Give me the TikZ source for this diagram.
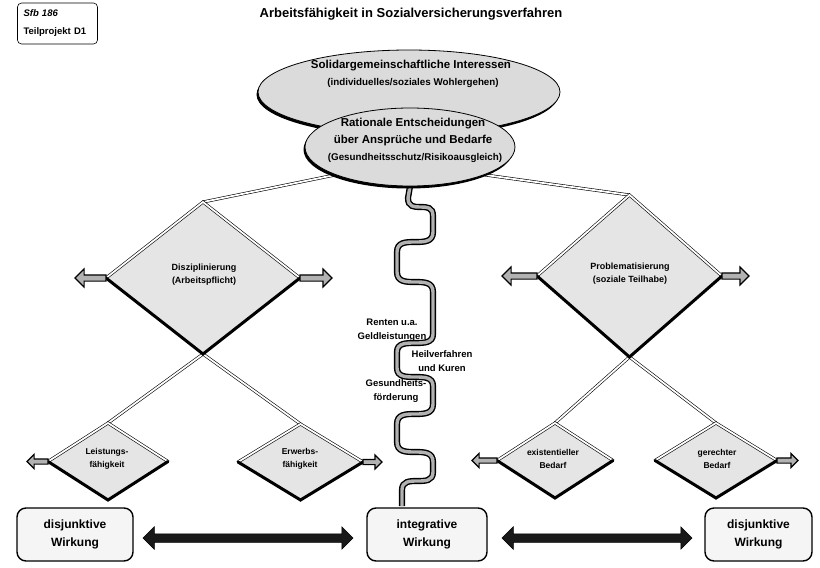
\documentclass[tikz,border=0pt]{standalone}
\usepackage{fontspec}
\setmainfont{Liberation Sans}
\usetikzlibrary{shapes.geometric,shapes.arrows,calc}
\pgfdeclarelayer{bg}
\pgfsetlayers{bg,main}
\begin{document}
\begin{tikzpicture}[x=1pt,y=-1pt,
  dfill/.style={diamond, draw=none, fill=gray!20, inner sep=0pt, outer sep=0pt},
  dbl/.style={draw=black, line width=0.6pt, double=white, double distance=1.8pt},
  thk/.style={draw=black, line width=3pt, line cap=round},
  fatarr/.style={single arrow, draw=black, line width=1.1pt, fill=gray!60, inner sep=2.5pt,
     single arrow head extend=6pt, anchor=tail, outer sep=0pt},
  smarr/.style={fatarr, inner sep=2pt, single arrow head extend=4.5pt},
  dtext/.style={align=center, font=\fontsize{9}{13}\selectfont\bfseries},
  stext/.style={align=center, font=\fontsize{8.5}{12.5}\selectfont\bfseries},
  wtext/.style={align=center, font=\fontsize{9.5}{14.5}\selectfont\bfseries},
  wave/.style={line width=1.4pt, double=gray!60, double distance=3.4pt},
  wbox/.style={draw=black, line width=1.4pt, rounded corners=9pt, fill=gray!8,
     minimum height=53pt, align=center, font=\fontsize{12}{18}\selectfont\bfseries},
  barr/.style={double arrow, fill=black!90, draw=black, line width=0.5pt, inner sep=4pt,
     double arrow head extend=7pt, outer sep=0pt}
]
\useasboundingbox (0,0) rectangle (820,568);

% header
\node[draw=black, line width=0.6pt, rounded corners=4pt, minimum width=80pt, minimum height=41pt,
      text width=68pt, align=left, font=\fontsize{9.5}{18}\selectfont\bfseries] (hdr) at (57.5,23.5)
  {\textit{Sfb 186}\\Teilprojekt D1};
\node[font=\fontsize{13}{15}\selectfont\bfseries] (title) at (411,14)
  {Arbeitsfähigkeit in Sozialversicherungsverfahren};

% ellipses
\node[ellipse, fill=black, minimum width=302pt, minimum height=84pt, inner sep=0pt] (osh) at (407.5,94.5) {};
\node[ellipse, draw=black, line width=0.8pt, fill=gray!28, minimum width=302pt, minimum height=84pt, inner sep=0pt] (outer) at (409,92) {};
\node[font=\fontsize{11.5}{13}\selectfont\bfseries] (o1) at (411,66) {Solidargemeinschaftliche Interessen};
\node[font=\fontsize{9.8}{12}\selectfont\bfseries] (o2) at (413,83) {(individuelles/soziales Wohlergehen)};

\node[ellipse, fill=black, minimum width=210pt, minimum height=78pt, inner sep=0pt] (ish) at (408.5,149.5) {};
\node[ellipse, draw=black, line width=0.8pt, fill=gray!28, minimum width=210pt, minimum height=78pt, inner sep=0pt] (inner) at (410,147) {};
\node[font=\fontsize{11.5}{13}\selectfont\bfseries] (i1) at (413,124) {Rationale Entscheidungen};
\node[font=\fontsize{11.5}{13}\selectfont\bfseries] (i2) at (413,141) {über Ansprüche und Bedarfe};
\node[font=\fontsize{9.8}{12}\selectfont\bfseries] (i3) at (415,158) {(Gesundheitsschutz/Risikoausgleich)};

% diamonds
\node[dfill, minimum width=194pt, minimum height=152pt] (ld) at (203,278) {};
\node[dfill, minimum width=185pt, minimum height=162pt] (rd) at (629.5,276) {};
\node[dfill, minimum width=120pt, minimum height=77pt] (s1) at (108,461.5) {};
\node[dfill, minimum width=125pt, minimum height=76pt] (s2) at (300.5,462) {};
\node[dfill, minimum width=116pt, minimum height=75pt] (s3) at (555,460.5) {};
\node[dfill, minimum width=122pt, minimum height=75pt] (s4) at (716,460.5) {};

\begin{pgfonlayer}{bg}
  \draw[dbl] (inner.south west) -- (ld.north);
  \draw[dbl] (inner.south east) -- (rd.north);
  \draw[dbl] (ld.south) -- (s1.north);
  \draw[dbl] (ld.south) -- (s2.north);
  \draw[dbl] (rd.south) -- (s3.north);
  \draw[dbl] (rd.south) -- (s4.north);
  \coordinate (wend) at (402,506);
  \draw[wave] (inner.south) -- (408,198)
    .. controls (408,216) and (433,198) .. (433,216) -- (433,232)
    .. controls (433,252) and (397,232) .. (397,252) -- (397,272)
    .. controls (397,292) and (433,272) .. (433,292) -- (433,334)
    .. controls (433,352) and (397,334) .. (397,352) -- (397,368)
    .. controls (397,386) and (433,368) .. (433,386) -- (433,404)
    .. controls (433,424) and (397,404) .. (397,424) -- (397,442)
    .. controls (397,462) and (433,442) .. (433,462) -- (433,472)
    .. controls (433,490) and (402,472) .. (402,490) -- (wend);
\end{pgfonlayer}

\foreach \d in {ld,rd,s1,s2,s3,s4}{
  \draw[dbl] (\d.west) -- (\d.north) -- (\d.east);
  \draw[thk] (\d.west) -- (\d.south) -- (\d.east);
}

% arrows at diamonds
\node[fatarr, minimum height=31pt, shape border rotate=180] (a1) at (ld.west) {};
\node[fatarr, minimum height=32pt] (a2) at (ld.east) {};
\node[fatarr, minimum height=35pt, shape border rotate=180] (a3) at (rd.west) {};
\node[fatarr, minimum height=27pt] (a4) at (rd.east) {};
\node[smarr, minimum height=21pt, shape border rotate=180] (a5) at (s1.west) {};
\node[smarr, minimum height=19pt] (a6) at (s2.east) {};
\node[smarr, minimum height=25pt, shape border rotate=180] (a7) at (s3.west) {};
\node[smarr, minimum height=21pt] (a8) at (s4.east) {};

% diamond texts
\node[dtext] (ldt) at (204,275) {Disziplinierung\\(Arbeitspflicht)};
\node[dtext] (rdt) at (630,274) {Problematisierung\\(soziale Teilhabe)};
\node[stext] (s1t) at (107,459) {Leistungs-\\fähigkeit};
\node[stext] (s2t) at (300,459) {Erwerbs-\\fähigkeit};
\node[stext] (s3t) at (553,459) {existentieller\\Bedarf};
\node[stext] (s4t) at (717,459) {gerechter\\Bedarf};

% wave labels
\node[wtext] (w1) at (392,330) {Renten u.a.\\Geldleistungen};
\node[wtext] (w2) at (442,361) {Heilverfahren\\und Kuren};
\node[wtext] (w3) at (396,391) {Gesundheits-\\förderung};

% bottom boxes
\node[wbox, minimum width=116pt] (b1) at (75,534.5) {disjunktive\\Wirkung};
\node[wbox, minimum width=120pt] (b2) at (427,534.5) {integrative\\Wirkung};
\node[wbox, minimum width=107pt] (b3) at (758.5,534.5) {disjunktive\\Wirkung};

\node[barr, minimum height=210pt] (ba1) at (248,538) {};
\node[barr, minimum height=190pt] (ba2) at (597,538) {};
\end{tikzpicture}
\end{document}
